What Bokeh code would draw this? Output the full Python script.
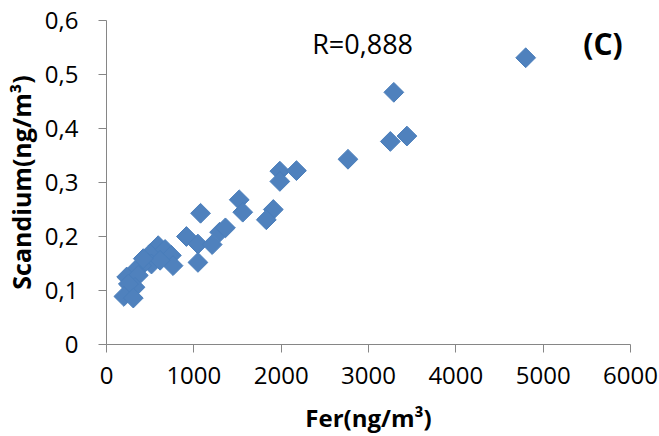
from bokeh.plotting import figure
from bokeh.models import Range1d, FixedTicker, Label
from bokeh.embed import file_html
from bokeh.resources import INLINE
import math

# Data (Fer vs Scandium, ng/m3)
fer = [4800, 3290, 3250, 3440, 2765, 1985, 1985, 2175, 1910, 1830,
       1077, 1520, 1560, 915, 1047, 1210, 1295, 1362, 1047, 592,
       497, 671, 743, 762, 515, 402, 327, 231, 364, 327,
       250, 199, 307, 614, 421]
scandium = [0.531, 0.467, 0.376, 0.386, 0.343, 0.321, 0.302, 0.322, 0.250, 0.231,
            0.243, 0.268, 0.245, 0.200, 0.186, 0.185, 0.208, 0.216, 0.152, 0.183,
            0.168, 0.176, 0.165, 0.146, 0.149, 0.146, 0.137, 0.125, 0.128, 0.106,
            0.112, 0.089, 0.086, 0.156, 0.159]

x_ticks = [0, 1000, 2000, 3000, 4000, 5000, 6000]
x_tick_labels = ["0", "1000", "2000", "3000", "4000", "5000", "6000"]
y_ticks = [0, 0.1, 0.2, 0.3, 0.4, 0.5, 0.6]
y_tick_labels = ["0", "0,1", "0,2", "0,3", "0,4", "0,5", "0,6"]

FONT = "Open Sans"

p = figure(width=659, height=436, output_backend="svg", toolbar_location=None,
           x_range=Range1d(0, 6000), y_range=Range1d(0, 0.6),
           min_border_left=103, min_border_right=29, min_border_top=20, min_border_bottom=92)
p.outline_line_color = None
p.xgrid.grid_line_color = None
p.ygrid.grid_line_color = None
p.background_fill_color = "white"
p.border_fill_color = "white"

p.scatter(fer, scandium, marker="square", size=14, angle=math.pi / 4,
          fill_color="#4F81BD", line_color="#4A7EBB", line_width=1)

for ax in (p.xaxis[0], p.yaxis[0]):
    ax.axis_line_color = "#868686"
    ax.major_tick_line_color = "#868686"
    ax.minor_tick_line_color = None
    ax.major_tick_in = 0
    ax.major_tick_out = 8
    ax.major_label_text_font = FONT
    ax.major_label_text_font_size = "24px"
    ax.major_label_text_color = "#000000"
    ax.axis_label_text_font = FONT
    ax.axis_label_text_font_style = "bold"
    ax.axis_label_text_color = "#000000"

p.xaxis.axis_label_text_font_size = "24px"
p.yaxis.axis_label_text_font_size = "25px"

p.xaxis.ticker = FixedTicker(ticks=x_ticks)
p.xaxis.major_label_overrides = {t: s for t, s in zip(x_ticks, x_tick_labels)}
p.yaxis.ticker = FixedTicker(ticks=y_ticks)
p.yaxis.major_label_overrides = {t: s for t, s in zip(y_ticks, y_tick_labels)}

p.xaxis.axis_label = "Fer(ng/m³)"
p.yaxis.axis_label = "Scandium(ng/m³)"
p.xaxis.major_label_standoff = 14
p.yaxis.major_label_standoff = 20
p.xaxis.axis_label_standoff = 14
p.yaxis.axis_label_standoff = 4

p.add_layout(Label(x=2355, y=0.557, text="R=0,888", text_font=FONT,
                   text_font_size="27px", text_baseline="middle", text_color="#000000"))
p.add_layout(Label(x=5460, y=0.557, text="(C)", text_font=FONT, text_font_style="bold",
                   text_font_size="30px", text_baseline="middle", text_color="#000000"))

open("out.html", "w").write(file_html(p, INLINE))
